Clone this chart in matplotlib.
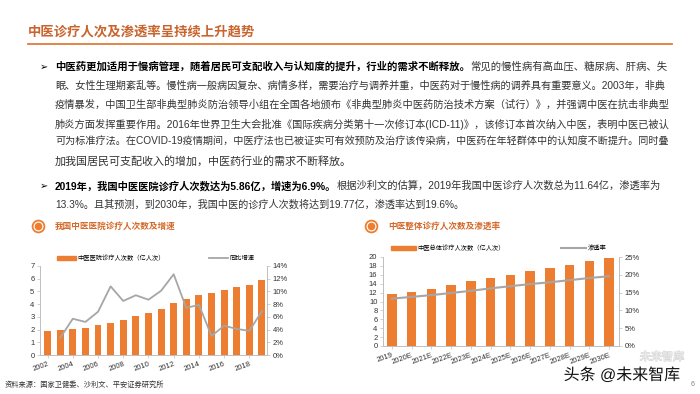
import matplotlib
matplotlib.use("Agg")
import matplotlib.pyplot as plt
import matplotlib.patheffects as pe
from matplotlib.patches import Patch
from matplotlib.lines import Line2D
import numpy as np

plt.rcParams['font.family'] = ['Liberation Sans', 'Noto Sans CJK SC', 'DejaVu Sans']

# 数据：中医医院诊疗人次数及增速
years_l = ['2002', '2003', '2004', '2005', '2006', '2007', '2008', '2009', '2010',
           '2011', '2012', '2013', '2014', '2015', '2016', '2017', '2018', '2019']
visits_l = [1.89, 1.95, 2.07, 2.15, 2.33, 2.54, 2.78, 3.05, 3.28,
            3.65, 4.09, 4.41, 4.75, 4.88, 5.12, 5.33, 5.54, 5.86]
growth_years = years_l[1:]
growth_l = [2.7, 5.7, 5.2, 6.8, 10.8, 8.5, 9.4, 8.7, 10.1,
            12.7, 7.4, 7.9, 3.0, 4.6, 4.1, 3.8, 6.9]

# 数据：中医整体诊疗人次数及渗透率
years_r = ['2019', '2020E', '2021E', '2022E', '2023E', '2024E',
           '2025E', '2026E', '2027E', '2028E', '2029E', '2030E']
visits_r = [11.64, 12.05, 12.86, 13.6, 14.5, 15.2, 15.9, 16.8, 17.5, 18.3, 19.2, 19.77]
pen_r = [13.3, 13.8, 14.3, 14.9, 15.5, 16.2, 16.8, 17.4, 17.9, 18.5, 19.1, 19.6]

ORANGE = '#ED7D31'
TITLE_C = '#C8642C'
GREY = '#A6A6A6'
AX_C = '#BFBFBF'
TXT = '#333333'

W, H = 700, 394
fig = plt.figure(figsize=(W / 100, H / 100), dpi=100)


def style_axes(ax, ax2):
    for a in (ax, ax2):
        a.spines['top'].set_visible(False)
        for s in ('left', 'right', 'bottom'):
            a.spines[s].set_color(AX_C)
            a.spines[s].set_linewidth(0.6)
        a.tick_params(axis='both', labelsize=5.5, colors=AX_C, labelcolor=TXT,
                      length=2, width=0.5, pad=2)


# ---- 左图 ----
axl = fig.add_axes([40 / W, 1 - 355 / H, 227 / W, 89 / H])
xl = np.arange(len(years_l))
axl.bar(xl, visits_l, width=0.55, color=ORANGE, zorder=2)
axl.set_ylim(0, 7)
axl.set_yticks(range(0, 8))
axl.set_xlim(-0.6, len(years_l) - 0.6)
axl.set_xticks(xl[::2])
axl.set_xticklabels(years_l[::2], rotation=20, ha='right', rotation_mode='anchor')
axl2 = axl.twinx()
axl2.plot([years_l.index(y) for y in growth_years], growth_l, color=GREY, lw=1.3, zorder=3)
axl2.set_ylim(0, 14)
axl2.set_yticks(range(0, 15, 2))
axl2.set_yticklabels([f'{v}%' for v in range(0, 15, 2)])
style_axes(axl, axl2)
axl.legend([Patch(color=ORANGE), Line2D([], [], color=GREY, lw=1.3)],
           ['中医医院诊疗人次数（亿人次）', '同比增速'], ncol=2, frameon=False,
           fontsize=4.5, loc='center', bbox_to_anchor=(0.51, 1.09),
           handlelength=3, handleheight=0.6, columnspacing=7, handletextpad=0.3)

# ---- 右图 ----
axr = fig.add_axes([383 / W, 1 - 346 / H, 236 / W, 89 / H])
xr = np.arange(len(years_r))
axr.bar(xr, visits_r, width=0.48, color=ORANGE, zorder=2)
axr.set_ylim(0, 20)
axr.set_yticks(range(0, 21, 2))
axr.set_xlim(-0.45, len(years_r) - 0.5)
axr.set_xticks(xr)
axr.set_xticklabels(years_r, rotation=20, ha='right', rotation_mode='anchor')
axr2 = axr.twinx()
axr2.plot(xr, pen_r, color=GREY, lw=1.5, zorder=3)
axr2.set_ylim(0, 25)
axr2.set_yticks(range(0, 26, 5))
axr2.set_yticklabels([f'{v}%' for v in range(0, 26, 5)])
style_axes(axr, axr2)
axr.legend([Patch(color=ORANGE), Line2D([], [], color=GREY, lw=1.5)],
           ['中医总体诊疗人次数（亿人次）', '渗透率'], ncol=2, frameon=False,
           fontsize=4.5, loc='center', bbox_to_anchor=(0.49, 1.1),
           handlelength=4, handleheight=0.6, columnspacing=9, handletextpad=0.3)

# ---- 页面文字层 ----
ov = fig.add_axes([0, 0, 1, 1])
ov.set_xlim(0, W)
ov.set_ylim(H, 0)
ov.axis('off')
ov.patch.set_alpha(0)

renderer = fig.canvas.get_renderer()


def put_line(x, y, segs, size, width=None, color=TXT):
    texts = []
    for s, bold in segs:
        t = ov.text(x, y, s, fontsize=size, fontweight='bold' if bold else 'normal',
                    color='black' if bold else color, va='center', ha='left')
        texts.append(t)
    if width:
        total = sum(t.get_window_extent(renderer).width for t in texts)
        for t in texts:
            t.set_fontsize(size * width / total)
    cur = x
    for t in texts:
        t.set_x(cur)
        cur += t.get_window_extent(renderer).width


ov.text(28, 33, '中医诊疗人次及渗透率呈持续上升趋势', fontsize=9.6, fontweight='bold',
        color=TITLE_C, va='center', ha='left')
ov.plot([28, 672], [44, 44], color='#E07B39', lw=1.3)

BODY = 7.5
FULL = 610
lines = [
    (67, [('中医药更加适用于慢病管理，随着居民可支配收入与认知度的提升，行业的需求不断释放。', True),
          ('常见的慢性病有高血压、糖尿病、肝病、失', False)], FULL),
    (86, [('眠、女性生理期紊乱等。慢性病一般病因复杂、病情多样，需要治疗与调养并重，中医药对于慢性病的调养具有重要意义。2003年，非典', False)], FULL),
    (105, [('疫情暴发，中国卫生部非典型肺炎防治领导小组在全国各地颁布《非典型肺炎中医药防治技术方案（试行）》，并强调中医在抗击非典型', False)], FULL),
    (124, [('肺炎方面发挥重要作用。2016年世界卫生大会批准《国际疾病分类第十一次修订本(ICD-11)》，该修订本首次纳入中医，表明中医已被认', False)], FULL),
    (142, [('可为标准疗法。在COVID-19疫情期间，中医疗法也已被证实可有效预防及治疗该传染病，中医药在年轻群体中的认知度不断提升。同时叠', False)], FULL),
    (161, [('加我国居民可支配收入的增加，中医药行业的需求不断释放。', False)], 297),
    (186, [('2019年，我国中医医院诊疗人次数达为5.86亿，增速为6.9%。', True),
           ('根据沙利文的估算，2019年我国中医诊疗人次数总为11.64亿，渗透率为', False)], 605),
    (205, [('13.3%。且其预测，到2030年，我国中医的诊疗人次数将达到19.77亿，渗透率达到19.6%。', False)], 409),
]
for y, segs, wd in lines:
    put_line(55, y, segs, BODY, wd)

for y in (67, 186):
    ov.text(40, y, '➢', fontsize=7, color='black', va='center', ha='left',
            family=['DejaVu Sans'])

# 小标题
for cx, label in ((38, '我国中医医院诊疗人次数及增速'), (371, '中医整体诊疗人次数及渗透率')):
    ov.plot(cx, 226, 'o', ms=8.5, mfc='white', mec=ORANGE, mew=1.3)
    ov.plot(cx, 226, 'o', ms=4.5, mfc=ORANGE, mec=ORANGE)
    ov.text(cx + 17, 226, label, fontsize=6.2, fontweight='bold', color='#D4692A',
            va='center', ha='left')

ov.text(5, 385, '资料来源：国家卫健委、沙利文、平安证券研究所', fontsize=5.2, color=TXT,
        va='center', ha='left')
ov.text(693, 385, '6', fontsize=5, color='#808080', va='center', ha='center')

# 水印
ov.text(662, 357, '未来智库', fontsize=8, color='#EDEDED', va='center', ha='center',
        path_effects=[pe.withStroke(linewidth=0.8, foreground='#D6D6D6')])
ov.text(622, 375, '头条 @未来智库', fontsize=11.5, color='#111111', va='center', ha='center',
        path_effects=[pe.withStroke(linewidth=2.5, foreground='white')])

fig.savefig('out.png', dpi=100)
